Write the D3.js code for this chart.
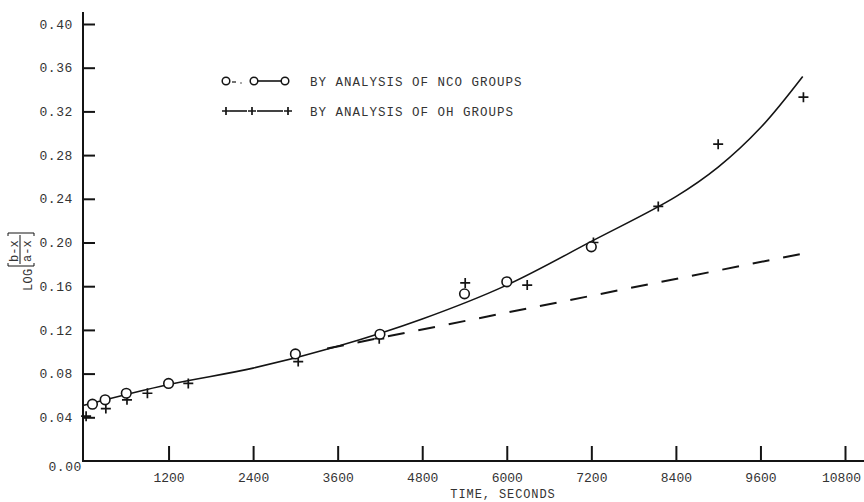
<!DOCTYPE html>
<html>
<head>
<meta charset="utf-8">
<script src="https://cdn.jsdelivr.net/npm/d3@7"></script>
<style>
  html, body { margin: 0; padding: 0; background: #fff; }
  svg text { font-family: "Liberation Mono", "DejaVu Sans Mono", monospace; fill: #333; }
</style>
</head>
<body>
<svg id="chart" width="864" height="502"></svg>
<script>
// Reaction time (s) and log[(b-x)/(a-x)] values
const ncoTime  = [120, 300, 600, 1200, 3000, 4200, 5400, 6000, 7200];
const ncoValue = [0.052, 0.056, 0.062, 0.071, 0.098, 0.116, 0.153, 0.164, 0.196];

const ohTime  = [30, 310, 610, 900, 1480, 3040, 4190, 5410, 6290, 7230, 8150, 9000, 10210];
const ohValue = [0.041, 0.048, 0.056, 0.062, 0.071, 0.091, 0.112, 0.163, 0.161, 0.200, 0.233, 0.290, 0.333];

// Smooth curve drawn through all points
const fitTime  = [0, 1200, 2400, 3600, 4800, 6000, 7200, 8400, 9000, 9600, 10200];
const fitValue = [0.051, 0.070, 0.085, 0.105, 0.130, 0.161, 0.201, 0.242, 0.269, 0.305, 0.352];

// Second-order line (dashed)
const dashTime  = [3450, 10290];
const dashValue = [0.103, 0.191];

const xTicks = [1200, 2400, 3600, 4800, 6000, 7200, 8400, 9600, 10800];
const yTicks = [0, 0.04, 0.08, 0.12, 0.16, 0.20, 0.24, 0.28, 0.32, 0.36, 0.40];

const legendLabels = ["BY ANALYSIS OF NCO GROUPS", "BY ANALYSIS OF OH GROUPS"];

const svg = d3.select("#chart");
const ink = "#141414";

const x = d3.scaleLinear().domain([0, 10800]).range([84, 845]);
const y = d3.scaleLinear().domain([0, 0.40]).range([461, 24]);

// Axes lines
svg.append("line").attr("x1", 83).attr("x2", 83).attr("y1", 12).attr("y2", 462)
  .attr("stroke", ink).attr("stroke-width", 2);
svg.append("line").attr("x1", 82).attr("x2", 864).attr("y1", 461).attr("y2", 461)
  .attr("stroke", ink).attr("stroke-width", 2);

// Y axis (ticks pointing into the plot)
const yAxis = d3.axisRight(y).tickValues(yTicks).tickSize(12).tickFormat(d3.format(".2f"));
const gy = svg.append("g").attr("transform", "translate(83,0)").call(yAxis);
gy.select(".domain").remove();
gy.selectAll(".tick line").attr("stroke", ink).attr("stroke-width", 2);
gy.selectAll(".tick text")
  .attr("x", -10).attr("text-anchor", "end")
  .attr("font-size", 13).attr("letter-spacing", 0.6)
  .attr("font-family", "Liberation Mono").attr("fill", "#333");
gy.selectAll(".tick").filter(d => d === 0).select("text").attr("x", -1).attr("dy", "0.75em");
gy.selectAll(".tick").filter(d => d === 0).select("line").remove();

// X axis (ticks pointing up)
const xAxis = d3.axisTop(x).tickValues(xTicks).tickSize(15).tickFormat(d3.format("d"));
const gx = svg.append("g").attr("transform", "translate(0,461)").call(xAxis);
gx.select(".domain").remove();
gx.selectAll(".tick line").attr("stroke", ink).attr("stroke-width", 2);
gx.selectAll(".tick text")
  .attr("y", 21).attr("dy", 0)
  .attr("font-size", 13).attr("letter-spacing", 0)
  .attr("font-family", "Liberation Mono").attr("fill", "#333");
// keep the last label inside the frame
gx.selectAll(".tick").filter(d => d === 10800).select("text").attr("x", -4);

// Axis titles
svg.append("text").attr("x", 503).attr("y", 498).attr("text-anchor", "middle")
  .attr("font-size", 12).attr("letter-spacing", 0.9).text("TIME, SECONDS");

const yTitle = svg.append("g").attr("transform", "translate(32,291) rotate(-90)");
yTitle.append("text").attr("x", 0).attr("y", 0).attr("font-size", 12).attr("letter-spacing", 0.3).text("LOG");
const frac = yTitle.append("g").attr("transform", "translate(25,0)");
frac.append("text").attr("x", 4).attr("y", -14).attr("font-size", 12).text("b-x");
frac.append("text").attr("x", 4).attr("y", -1).attr("font-size", 12).text("a-x");
frac.append("line").attr("x1", 2).attr("x2", 31).attr("y1", -12).attr("y2", -12).attr("stroke", ink).attr("stroke-width", 1);
// brackets
[[0, 1], [33, -1]].forEach(([bx, dir]) => {
  frac.append("path")
    .attr("d", `M${bx + 3 * dir},-24 L${bx},-24 L${bx},2 L${bx + 3 * dir},2`)
    .attr("fill", "none").attr("stroke", ink).attr("stroke-width", 1);
});

// Curves
const fitPts = fitTime.map((t, i) => [t, fitValue[i]]);
svg.append("path").datum(fitPts)
  .attr("d", d3.line().x(d => x(d[0])).y(d => y(d[1])).curve(d3.curveCatmullRom.alpha(0.5)))
  .attr("fill", "none").attr("stroke", ink).attr("stroke-width", 1.6);

const dashPts = dashTime.map((t, i) => [t, dashValue[i]]);
svg.append("path").datum(dashPts)
  .attr("d", d3.line().x(d => x(d[0])).y(d => y(d[1])))
  .attr("fill", "none").attr("stroke", ink).attr("stroke-width", 2)
  .attr("stroke-dasharray", "17,14");

// Markers
function cross(g, cx, cy, r) {
  g.append("path")
    .attr("d", `M${cx - r},${cy} H${cx + r} M${cx},${cy - r} V${cy + r}`)
    .attr("stroke", ink).attr("stroke-width", 1.7).attr("fill", "none");
}
const gOh = svg.append("g");
ohTime.forEach((t, i) => cross(gOh, x(t), y(ohValue[i]), 5));

svg.append("g").selectAll("circle")
  .data(ncoTime.map((t, i) => [t, ncoValue[i]]))
  .join("circle")
  .attr("cx", d => x(d[0])).attr("cy", d => y(d[1])).attr("r", 4.8)
  .attr("fill", "#fff").attr("stroke", ink).attr("stroke-width", 1.6);

// Legend
const lg = svg.append("g");
const r1 = 81, r2 = 111;
[226, 254, 285].forEach(cx => lg.append("circle").attr("cx", cx).attr("cy", r1).attr("r", 3.8)
  .attr("fill", "#fff").attr("stroke", ink).attr("stroke-width", 1.5));
lg.append("line").attr("x1", 232).attr("x2", 236).attr("y1", r1 + 1).attr("y2", r1 + 1).attr("stroke", ink).attr("stroke-width", 1.2);
lg.append("circle").attr("cx", 241).attr("cy", r1 + 2).attr("r", 0.7).attr("fill", ink);
lg.append("line").attr("x1", 258).attr("x2", 281).attr("y1", r1).attr("y2", r1).attr("stroke", ink).attr("stroke-width", 1.6);
lg.append("text").attr("x", 310).attr("y", r1 + 4.5).attr("font-size", 12.5).attr("letter-spacing", 1.0).text(legendLabels[0]);

[226, 252, 288].forEach(cx => cross(lg, cx, r2, 4));
lg.append("line").attr("x1", 230).attr("x2", 247).attr("y1", r2).attr("y2", r2).attr("stroke", ink).attr("stroke-width", 1.6);
lg.append("line").attr("x1", 257).attr("x2", 283).attr("y1", r2).attr("y2", r2).attr("stroke", ink).attr("stroke-width", 1.6);
lg.append("text").attr("x", 310).attr("y", r2 + 4.5).attr("font-size", 12.5).attr("letter-spacing", 1.0).text(legendLabels[1]);
</script>
</body>
</html>
